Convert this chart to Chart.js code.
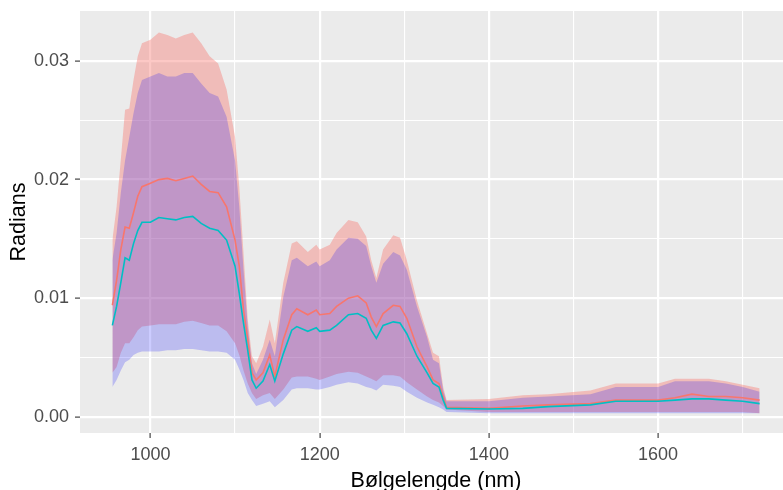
<!DOCTYPE html>
<html>
<head>
<meta charset="utf-8">
<script src="https://cdn.jsdelivr.net/npm/chart.js@4.4.1/dist/chart.umd.min.js"></script>
<style>
  html, body { margin: 0; padding: 0; background: #fff; overflow: hidden; }
  #wrap { width: 783px; height: 490px; overflow: hidden; }
  canvas { display: block; }
</style>
</head>
<body>
<div id="wrap"><canvas id="spektrum" width="792" height="490"></canvas></div>
<script>
// bølgelengder (nm)
const WL = [
  955, 960, 965, 970, 975, 980, 985, 990, 1000, 1010,
  1020, 1030, 1040, 1050, 1060, 1070, 1080, 1090, 1100, 1105,
  1110, 1115, 1120, 1125, 1133, 1141, 1147, 1157, 1167, 1173,
  1186, 1196, 1200, 1212, 1220, 1234, 1245, 1255, 1261, 1267,
  1275, 1287, 1295, 1303, 1315, 1327, 1334, 1341, 1346, 1350,
  1400, 1440, 1470, 1520, 1550, 1600, 1620, 1640, 1660, 1680,
  1700, 1720
];

// gruppe 1 (rød): snitt og bånd
const redMean = [
  .0094, .0115, .0141, .0160, .0159, .0172, .0186, .0194, .0197, .0200,
  .0201, .0199, .0201, .0203, .0196, .0190, .0189, .0177, .0149, .0127,
  .0090, .0065, .0037, .0031, .0037, .0052, .0034, .0065, .0086, .0091,
  .0086, .0090, .0086, .0087, .0093, .0100, .0102, .0096, .0084, .0076,
  .0087, .0094, .0093, .0083, .0059, .0042, .0031, .0028, .0017, .0008,
  .0007, .0009, .0010, .0011, .0014, .0014, .0016, .0019, .0017, .0017,
  .0016, .0014
];
const redHi = [
  .0149, .0177, .0217, .0259, .0260, .0284, .0304, .0315, .0318, .0324,
  .0322, .0319, .0322, .0324, .0315, .0304, .0298, .0276, .0236, .0194,
  .0138, .0082, .0051, .0045, .0059, .0082, .0062, .0113, .0146, .0148,
  .0139, .0145, .0141, .0145, .0155, .0166, .0164, .0152, .0132, .0117,
  .0141, .0153, .0151, .0132, .0098, .0070, .0054, .0051, .0025, .0014,
  .0015, .0018, .0019, .0022, .0028, .0028, .0032, .0032, .0032, .0030,
  .0027, .0024
];
const redLo = [
  .0037, .0042, .0054, .0062, .0062, .0067, .0073, .0076, .0077, .0078,
  .0078, .0078, .0080, .0081, .0079, .0077, .0077, .0072, .0062, .0052,
  .0039, .0028, .0020, .0015, .0018, .0020, .0015, .0023, .0033, .0034,
  .0034, .0032, .0031, .0034, .0036, .0038, .0037, .0034, .0032, .0030,
  .0035, .0035, .0034, .0029, .0023, .0017, .0014, .0012, .0009, .0006,
  .0004, .0004, .0004, .0004, .0004, .0004, .0004, .0004, .0004, .0004,
  .0004, .0003
];

// gruppe 2 (blå): snitt og bånd
const blueMean = [
  .0077, .0093, .0113, .0134, .0132, .0146, .0157, .0164, .0164, .0168,
  .0167, .0166, .0168, .0169, .0163, .0159, .0157, .0149, .0127, .0104,
  .0079, .0056, .0031, .0024, .0030, .0044, .0030, .0053, .0073, .0076,
  .0072, .0075, .0072, .0073, .0077, .0086, .0087, .0083, .0073, .0066,
  .0077, .0080, .0079, .0070, .0051, .0037, .0028, .0025, .0014, .0007,
  .00065, .0007, .00085, .0010, .0013, .0013, .0014, .0015, .0015, .0014,
  .0013, .0011
];
const blueHi = [
  .0132, .0155, .0189, .0216, .0236, .0256, .0273, .0284, .0287, .0290,
  .0287, .0287, .0290, .0290, .0281, .0273, .0270, .0253, .0216, .0177,
  .0124, .0076, .0045, .0036, .0048, .0065, .0051, .0101, .0132, .0134,
  .0127, .0131, .0127, .0132, .0141, .0151, .0150, .0144, .0127, .0113,
  .0129, .0139, .0136, .0124, .0093, .0067, .0048, .0045, .0022, .0013,
  .0013, .0016, .0017, .0019, .0025, .0025, .0030, .0030, .0030, .0028,
  .0025, .0021
];
const blueLo = [
  .0025, .0031, .0039, .0046, .0048, .0052, .0054, .0055, .0055, .0055,
  .0056, .0056, .0057, .0057, .0056, .0055, .0055, .0054, .0048, .0040,
  .0031, .0020, .0014, .0009, .0011, .0013, .0008, .0014, .0023, .0024,
  .0024, .0023, .0023, .0025, .0027, .0029, .0028, .0025, .0024, .0022,
  .0027, .0026, .0025, .0021, .0016, .0012, .0010, .0008, .0006, .0004,
  .0003, .0003, .0003, .0003, .0003, .0003, .0003, .0003, .0003, .0003,
  .0003, .0003
];

// akser
const X_MAJOR = [1000, 1200, 1400, 1600];
const X_MINOR = [1100, 1300, 1500, 1700];
const Y_MAJOR = [0, 0.01, 0.02, 0.03];
const Y_MINOR = [0.005, 0.015, 0.025];

// 5 % luft rundt dataene, som i ggplot
const xSpan = WL[WL.length - 1] - WL[0];
const X_MIN = WL[0] - 0.05 * xSpan;
const X_MAX = WL[WL.length - 1] + 0.05 * xSpan;
const Y_MIN = -0.001375;
const Y_MAX = 0.03422;

const FONT = '"Liberation Sans", Arial, sans-serif';
const RED_FILL = 'rgba(248,118,109,0.4)';
const BLUE_FILL = 'rgba(0,0,255,0.2)';
const NONE = 'rgba(0,0,0,0)';

const pts = arr => WL.map((x, i) => ({ x: x, y: arr[i] }));

// grå panelbakgrunn
const panelBg = {
  id: 'panelBg',
  beforeDraw(chart) {
    const { ctx, chartArea: a } = chart;
    ctx.save();
    ctx.fillStyle = '#fff';
    ctx.fillRect(0, 0, chart.width, chart.height);
    ctx.fillStyle = '#EBEBEB';
    ctx.fillRect(a.left, a.top, a.right - a.left, a.bottom - a.top);
    ctx.restore();
  }
};

function gridFor(major) {
  const isMajor = c => c.tick && major.includes(c.tick.value);
  return {
    color: '#fff',
    lineWidth: c => isMajor(c) ? 2.2 : 1.1,
    tickLength: 5,
    tickWidth: 1.1,
    tickColor: c => isMajor(c) ? '#333333' : NONE
  };
}

// ingen ekstra luft for etiketter utenfor panelet
function noPad(s) {
  s.paddingTop = 0;
  s.paddingBottom = 0;
  s.paddingLeft = 0;
  s.paddingRight = 0;
}

const band = (data, fill, color, order) => ({
  data: data, fill: fill, backgroundColor: color, borderColor: NONE,
  borderWidth: 0, pointRadius: 0, order: order
});

const ds = [
  band(pts(redHi), '+1', RED_FILL, 3),
  band(pts(redLo), false, RED_FILL, 3),
  band(pts(blueHi), '+1', BLUE_FILL, 2),
  band(pts(blueLo), false, BLUE_FILL, 2),
  { data: pts(redMean), borderColor: '#F8766D', borderWidth: 1.6, pointRadius: 0, fill: false, order: 1 },
  { data: pts(blueMean), borderColor: '#00BFC4', borderWidth: 1.6, pointRadius: 0, fill: false, order: 0 }
];

new Chart(document.getElementById('spektrum'), {
  type: 'line',
  data: { datasets: ds },
  plugins: [panelBg],
  options: {
    responsive: false,
    animation: false,
    devicePixelRatio: 1,
    layout: { padding: { top: 11, left: 0, right: 0, bottom: 0 } },
    plugins: { legend: { display: false }, tooltip: { enabled: false } },
    elements: { line: { tension: 0 } },
    scales: {
      x: {
        type: 'linear',
        min: X_MIN,
        max: X_MAX,
        afterBuildTicks: s => { s.ticks = X_MAJOR.concat(X_MINOR).sort((a, b) => a - b).map(v => ({ value: v })); },
        afterFit: s => { s.height = 57; noPad(s); },
        border: { display: false },
        grid: gridFor(X_MAJOR),
        ticks: {
          autoSkip: false, maxRotation: 0, padding: 6.5, color: '#4D4D4D',
          font: { family: FONT, size: 18 },
          callback: v => X_MAJOR.includes(v) ? String(v) : ''
        },
        title: {
          display: true, text: 'Bølgelengde (nm)', color: '#000',
          font: { family: FONT, size: 21.5 }, padding: { top: 0, bottom: -4 }
        }
      },
      y: {
        type: 'linear',
        min: Y_MIN,
        max: Y_MAX,
        afterBuildTicks: s => { s.ticks = Y_MAJOR.concat(Y_MINOR).sort((a, b) => a - b).map(v => ({ value: v })); },
        afterFit: s => { s.width = 80; noPad(s); },
        border: { display: false },
        grid: gridFor(Y_MAJOR),
        ticks: {
          autoSkip: false, padding: 6, color: '#4D4D4D',
          font: { family: FONT, size: 18 },
          callback: v => Y_MAJOR.includes(v) ? v.toFixed(2) : ''
        },
        title: {
          display: true, text: 'Radians', color: '#000',
          font: { family: FONT, size: 21.5 }, padding: { top: 5.7, bottom: 0 }
        }
      }
    }
  }
});
</script>
</body>
</html>
